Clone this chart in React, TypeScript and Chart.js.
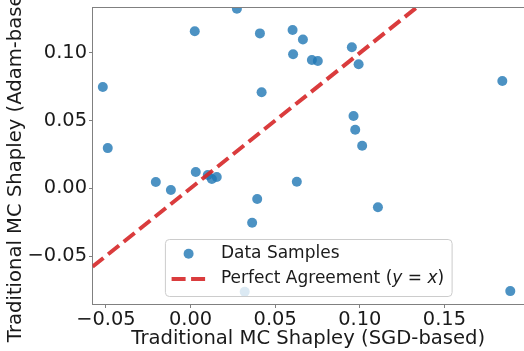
import React, { useEffect, useRef } from "react";
import { Chart, registerables } from "chart.js";

Chart.register(...registerables);

// Data samples (SGD-based x, Adam-based y)
const xValues = [
  -0.0518, -0.0489, -0.0205, -0.0116, 0.0025, 0.0031, 0.0102, 0.0126, 0.0155,
  0.0274, 0.032, 0.041, 0.042, 0.0394, 0.0364, 0.0603, 0.0664, 0.0606, 0.0717,
  0.0752, 0.0953, 0.0993, 0.1842, 0.0963, 0.0973, 0.1014, 0.0628, 0.1107, 0.1889,
];
const yValues = [
  0.0748, 0.0297, 0.0047, -0.0013, 0.116, 0.012, 0.0098, 0.0069, 0.0083,
  0.1326, -0.0764, 0.1144, 0.071, -0.0079, -0.0254, 0.1169, 0.1099, 0.099, 0.0948,
  0.094, 0.1042, 0.0916, 0.0793, 0.0534, 0.0433, 0.0315, 0.0049, -0.014, -0.0759,
];
const xRange = [-0.0579, 0.197];
const yRange = [-0.0858, 0.1339];
const tickStep = 0.05;
const seriesLabels = ["Data Samples", "Perfect Agreement"];
const xTitle = "Traditional MC Shapley (SGD-based)";
const yTitle = "Traditional MC Shapley (Adam-based)";

const FONT = "'DejaVu Sans', sans-serif";
const POINT_COLOR = "rgba(31,119,180,0.8)";
const LINE_COLOR = "rgba(214,39,40,0.9)";
const SPINE = "#808080";

const fmt = (v: number) => (v < -1e-9 ? "\u2212" : "") + Math.abs(v).toFixed(2);

const decorPlugin = {
  id: "decor",
  afterDraw(chart: any) {
    const { ctx, chartArea } = chart;
    const { left, right, top, bottom } = chartArea;
    ctx.save();
    // top spine
    ctx.strokeStyle = SPINE;
    ctx.lineWidth = 1;
    ctx.beginPath();
    ctx.moveTo(left, top + 0.5);
    ctx.lineTo(right, top + 0.5);
    ctx.stroke();

    // y title
    ctx.fillStyle = "#1a1a1a";
    ctx.font = `19.6px ${FONT}`;
    ctx.textAlign = "center";
    ctx.textBaseline = "middle";
    ctx.save();
    ctx.translate(16, (top + bottom) / 2 + 2.5);
    ctx.rotate(-Math.PI / 2);
    ctx.fillText(yTitle, 0, 0);
    ctx.restore();

    // x title
    ctx.fillText(xTitle, (left + right) / 2, 339);

    // legend
    const fs = 17;
    const reg = `${fs}px ${FONT}`;
    const ital = `italic ${fs}px ${FONT}`;
    const segs: [string, string][] = [
      [seriesLabels[1] + " (", reg],
      ["y", ital],
      [" = ", reg],
      ["x", ital],
      [")", reg],
    ];
    let w2 = 0;
    segs.forEach(([t, f]) => {
      ctx.font = f;
      w2 += ctx.measureText(t).width;
    });
    ctx.font = reg;
    const w1 = ctx.measureText(seriesLabels[0]).width;
    const textW = Math.max(w1, w2);
    const boxW = 56 + textW + 7.5;
    const boxH = 57;
    const bx = (left + right) / 2 - boxW / 2;
    const by = bottom - 8.5 - boxH;
    ctx.beginPath();
    if ((ctx as any).roundRect) (ctx as any).roundRect(bx + 0.5, by + 0.5, boxW, boxH, 4);
    else ctx.rect(bx + 0.5, by + 0.5, boxW, boxH);
    ctx.fillStyle = "rgba(255,255,255,0.8)";
    ctx.fill();
    ctx.strokeStyle = "#cccccc";
    ctx.stroke();

    const r1 = by + 14.7;
    const r2 = by + 40;
    ctx.fillStyle = POINT_COLOR;
    ctx.beginPath();
    ctx.arc(bx + 23.7, r1, 5, 0, Math.PI * 2);
    ctx.fill();
    ctx.strokeStyle = LINE_COLOR;
    ctx.lineWidth = 4;
    ctx.setLineDash([14, 5.5]);
    ctx.beginPath();
    ctx.moveTo(bx + 6.7, r2);
    ctx.lineTo(bx + 40.4, r2);
    ctx.stroke();
    ctx.setLineDash([]);

    ctx.fillStyle = "#1a1a1a";
    ctx.textAlign = "left";
    ctx.textBaseline = "middle";
    ctx.font = reg;
    ctx.fillText(seriesLabels[0], bx + 56, r1);
    let tx = bx + 56;
    segs.forEach(([t, f]) => {
      ctx.font = f;
      ctx.fillText(t, tx, r2);
      tx += ctx.measureText(t).width;
    });
    ctx.restore();
  },
};

export default function App() {
  const ref = useRef<HTMLCanvasElement>(null);
  useEffect(() => {
    if (!ref.current) return;
    const points = xValues.map((x, i) => ({ x, y: yValues[i] }));
    const linePts = xRange.map((v) => ({ x: v, y: v }));
    const tickCommon = {
      color: "#1a1a1a",
      font: { family: FONT, size: 19.4 },
      stepSize: tickStep,
      includeBounds: false,
      callback: (v: any) => fmt(Number(v)),
    };
    const gridCommon = {
      drawOnChartArea: false,
      drawTicks: true,
      tickLength: 3.5,
      tickColor: SPINE,
      color: SPINE,
    };
    const zeroPad = (s: any) => {
      s.paddingTop = 0;
      s.paddingBottom = 0;
      s.paddingLeft = 0;
      s.paddingRight = 0;
    };
    const chart = new Chart(ref.current, {
      type: "scatter",
      data: {
        datasets: [
          {
            type: "line",
            label: seriesLabels[1],
            data: linePts,
            borderColor: LINE_COLOR,
            borderWidth: 4,
            borderDash: [14, 6],
            pointRadius: 0,
            fill: false,
          } as any,
          {
            label: seriesLabels[0],
            data: points,
            backgroundColor: POINT_COLOR,
            borderWidth: 0,
            pointRadius: 5,
            pointHoverRadius: 5,
          },
        ],
      },
      options: {
        animation: false,
        responsive: false,
        devicePixelRatio: 1,
        layout: { autoPadding: false, padding: { top: 7, right: 0, left: 0, bottom: 0 } },
        plugins: { legend: { display: false }, tooltip: { enabled: false } },
        scales: {
          x: {
            type: "linear",
            min: xRange[0],
            max: xRange[1],
            grid: gridCommon,
            border: { display: true, color: SPINE, width: 1 },
            ticks: { ...tickCommon, padding: 0, maxRotation: 0 },
            afterFit: (s: any) => {
              s.height = 46.5;
              zeroPad(s);
            },
          },
          y: {
            type: "linear",
            min: yRange[0],
            max: yRange[1],
            grid: gridCommon,
            border: { display: true, color: SPINE, width: 1 },
            ticks: { ...tickCommon, padding: 2 },
            afterFit: (s: any) => {
              s.width = 92.5;
              zeroPad(s);
            },
          },
        },
      },
      plugins: [decorPlugin],
    });
    return () => chart.destroy();
  }, []);
  return (
    <div style={{ position: "absolute", left: 0, top: 0, width: 524, height: 351, overflow: "hidden", background: "#fff" }}>
      <canvas ref={ref} width={524} height={351} />
    </div>
  );
}
